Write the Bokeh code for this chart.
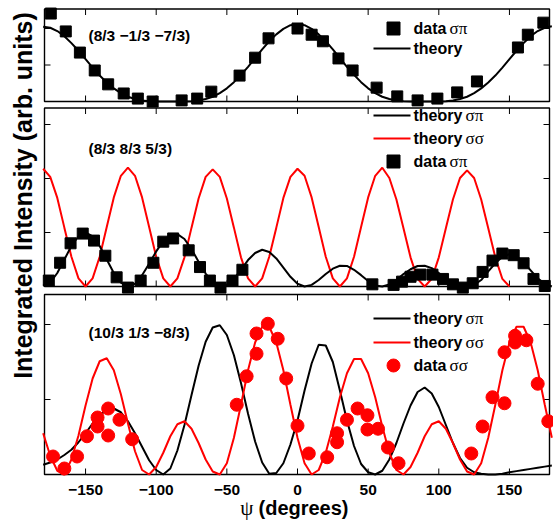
import math
from bokeh.plotting import figure
from bokeh.models import Range1d
from bokeh.core.properties import value
from bokeh.embed import file_html
from bokeh.resources import INLINE

# ---------------- data ----------------
x_ticks = [-150, -100, -50, 0, 50, 100, 150]
x_tick_labels = ["\u2212150", "\u2212100", "\u221250", "0", "50", "100", "150"]

# theory sampled every 5 degrees
psi_theory = list(range(-180, 181, 5))
psi_theory_mid_ss = list(range(-180, 151, 5))

# panel 1: (8/3 -1/3 -7/3)
top_theory = [2.05, 2.02, 1.93, 1.79, 1.60, 1.39, 1.16, 0.93, 0.71, 0.52,
              0.36, 0.23, 0.13, 0.07, 0.03, 0.01, 0.0, 0.0, 0.0, 0.0,
              0.0, 0.01, 0.03, 0.07, 0.13, 0.23, 0.36, 0.53, 0.73, 0.95,
              1.19, 1.43, 1.65, 1.84, 1.99, 2.09, 2.12, 2.09, 1.99, 1.84,
              1.65, 1.43, 1.19, 0.95, 0.73, 0.53, 0.36, 0.23, 0.13, 0.07,
              0.03, 0.01, 0.0, 0.0, 0.0, 0.0, 0.0, 0.01, 0.03, 0.07,
              0.13, 0.23, 0.36, 0.52, 0.71, 0.93, 1.16, 1.39, 1.60, 1.79,
              1.93, 2.02, 2.06]
top_psi = [-174.6, -164, -154, -143.5, -134, -123, -113, -102.5, -82, -71,
           -61, -41, -30, -20.5, 0, 10, 18, 29, 39, 56,
           70.6, 85, 99, 113, 127, 156, 163, 174]
top_val = [2.41, 1.92, 1.34, 0.85, 0.47, 0.22, 0.08, 0.0, 0.03, 0.08,
           0.27, 0.71, 1.2, 1.73, 2.0, 1.83, 1.65, 1.18, 0.85, 0.38,
           0.14, 0.03, 0.08, 0.25, 0.55, 1.48, 1.83, 2.16]

# panel 2: (8/3 8/3 5/3)
mid_pi_theory = [0.02, 0.07, 0.25, 0.5, 0.75, 0.93, 1.0, 0.93, 0.75, 0.5,
                 0.25, 0.07, 0.0, 0.05, 0.21, 0.42, 0.65, 0.84, 0.96, 0.97,
                 0.88, 0.69, 0.46, 0.24, 0.08, 0.0, 0.03, 0.14, 0.31, 0.49,
                 0.62, 0.68, 0.64, 0.52, 0.35, 0.18, 0.05, 0.0, 0.03, 0.12,
                 0.23, 0.33, 0.385, 0.38, 0.31, 0.21, 0.10, 0.02, 0.0, 0.04,
                 0.12, 0.23, 0.32, 0.38, 0.385, 0.34, 0.25, 0.14, 0.05, 0.0,
                 0.0, 0.03, 0.12, 0.28, 0.43, 0.55, 0.6, 0.56, 0.45, 0.3,
                 0.15, 0.05, 0.0]
mid_ss_theory = [2.18, 2.03, 1.64, 1.09, 0.55, 0.15, 0.0, 0.15, 0.55, 1.10,
                 1.65, 2.05, 2.20, 2.05, 1.65, 1.10, 0.55, 0.15, 0.0, 0.15,
                 0.54, 1.09, 1.63, 2.03, 2.17, 2.03, 1.63, 1.09, 0.54, 0.15,
                 0.0, 0.15, 0.55, 1.09, 1.64, 2.03, 2.18, 2.05, 1.65, 1.10,
                 0.55, 0.15, 0.0, 0.15, 0.55, 1.10, 1.65, 2.05, 2.20, 2.01,
                 1.61, 1.08, 0.54, 0.14, 0.0, 0.14, 0.54, 1.08, 1.61, 2.01,
                 2.15, 2.01, 1.61, 1.08, 0.54, 0.14, 0.0]
mid_psi = [-176, -168, -160.6, -152, -144, -136, -128, -120, -111, -102,
           -95, -88, -77, -69, -62, -54.5, -46, -39,
           53, 68, 74, 80, 87, 95.5, 103, 110, 117, 124,
           131, 138, 145, 153, 160, 167, 175]
mid_val = [0.11, 0.44, 0.80, 0.98, 0.85, 0.57, 0.17, -0.02, 0.11, 0.44,
           0.83, 0.89, 0.67, 0.36, 0.11, -0.02, 0.11, 0.31,
           0.04, 0.03, 0.09, 0.18, 0.22, 0.22, 0.14, 0.04, -0.02, 0.06,
           0.27, 0.48, 0.61, 0.58, 0.43, 0.14, 0.01]

# panel 3: (10/3 1/3 -8/3)
bot_pi_theory = [0.13, 0.16, 0.2, 0.26, 0.33, 0.43, 0.55, 0.68, 0.79, 0.86,
                 0.88, 0.83, 0.71, 0.55, 0.37, 0.19, 0.06, 0.0, 0.08, 0.32,
                 0.66, 1.06, 1.45, 1.77, 1.96, 1.99, 1.86, 1.59, 1.22, 0.81,
                 0.44, 0.16, 0.01, 0.02, 0.15, 0.40, 0.72, 1.12, 1.48, 1.73,
                 1.72, 1.50, 1.12, 0.72, 0.38, 0.14, 0.03, 0.0, 0.05, 0.2,
                 0.42, 0.68, 0.92, 1.1, 1.16, 1.08, 0.9, 0.66, 0.42, 0.22,
                 0.09, 0.03, 0.01, 0.0, 0.0, 0.01, 0.03, 0.045, 0.06, 0.075,
                 0.09, 0.105, 0.12]
bot_ss_theory = [0.55, 0.25, 0.05, 0.0, 0.2, 0.52, 0.92, 1.28, 1.51, 1.55,
                 1.39, 1.07, 0.68, 0.31, 0.06, 0.0, 0.1, 0.29, 0.51, 0.67,
                 0.71, 0.61, 0.42, 0.2, 0.04, 0.0, 0.15, 0.49, 0.93, 1.39,
                 1.76, 1.97, 1.97, 1.76, 1.39, 0.93, 0.49, 0.15, 0.0, 0.06,
                 0.29, 0.64, 1.03, 1.35, 1.54, 1.54, 1.35, 1.03, 0.64, 0.29,
                 0.06, 0.0, 0.1, 0.29, 0.51, 0.67, 0.71, 0.61, 0.42, 0.2,
                 0.04, 0.0, 0.15, 0.49, 0.93, 1.39, 1.76, 1.97, 1.97, 1.76,
                 1.39, 0.93, 0.49]
bot_psi = [-173, -165, -156, -149, -141.5, -141.5, -134, -134, -126, -117,
           -43, -36, -29, -29, -21, -14, -8, 0, 8,
           21, 28, 28, 35, 42.5, 49.5, 49.5, 57, 64, 71.5,
           123, 131, 138, 146.5, 146.5, 154, 154, 162, 170, 177.5]
bot_val = [0.24, 0.08, 0.24, 0.51, 0.64, 0.76, 0.88, 0.52, 0.73, 0.47,
           0.93, 1.31, 1.61, 1.88, 2.01, 1.81, 1.28, 0.65, 0.28,
           0.23, 0.55, 0.43, 0.73, 0.88, 0.79, 0.6, 0.61, 0.36, 0.15,
           0.28, 0.64, 1.03, 0.95, 1.63, 1.85, 1.76, 1.79, 1.21, 0.71]

panel_titles = ["(8/3 \u22121/3 \u22127/3)", "(8/3 8/3 5/3)", "(10/3 1/3 \u22128/3)"]
y_title = "Integrated Intensity (arb. units)"
x_title_symbol = "\u03c8"
x_title_text = "(degrees)"

# ---------------- layout ----------------
W, H = 553, 520
RED = "#ff0000"
SANS = "Liberation Sans"
SERIF = "Liberation Serif"
PX_PER_DEG = 1.413
PSI0_PAGE = 297.0


def psi_at(px):
    return (px - PSI0_PAGE) / PX_PER_DEG


def yp(page_y):  # default y range: pixels above canvas bottom
    return H - page_y


PSI_L, PSI_R = psi_at(44), psi_at(549)

p = figure(width=W, height=H, output_backend="svg", toolbar_location=None,
           x_range=Range1d(psi_at(0), psi_at(W)), y_range=Range1d(0, H),
           min_border_left=0, min_border_right=0, min_border_top=0,
           min_border_bottom=0)
p.outline_line_color = None
p.grid.visible = False
p.axis.visible = False
p.background_fill_color = "white"

# (name, page top, page bottom (value 0), px per unit, y ticks)
panels = [
    ("top", 8.5, 101.0, 36.5, [1, 2]),
    ("mid", 107.5, 286.0, 54.0, [1, 2, 3]),
    ("bot", 294.0, 474.0, 75.0, [1, 2]),
]
TICK = 6.0
for name, ptop, pbot, k, yt in panels:
    p.extra_y_ranges[name] = Range1d(-(H - pbot) / k, pbot / k)
    vtop = (pbot - ptop) / k
    p.quad(left=[PSI_L], right=[PSI_R], bottom=[0], top=[vtop], y_range_name=name,
           fill_color=None, line_color="black", line_width=1.4)
    n = len(x_ticks)
    p.segment(x0=x_ticks, x1=x_ticks, y0=[0] * n, y1=[TICK / k] * n,
              y_range_name=name, line_color="black", line_width=1)
    p.segment(x0=x_ticks, x1=x_ticks, y0=[vtop] * n, y1=[vtop - TICK / k] * n,
              y_range_name=name, line_color="black", line_width=1)
    d = TICK / PX_PER_DEG
    m = len(yt)
    p.segment(x0=[PSI_L] * m, x1=[PSI_L + d] * m, y0=yt, y1=yt,
              y_range_name=name, line_color="black", line_width=1)
    p.segment(x0=[PSI_R] * m, x1=[PSI_R - d] * m, y0=yt, y1=yt,
              y_range_name=name, line_color="black", line_width=1)

# x tick labels
p.text(x=x_ticks, y=[yp(489)] * len(x_ticks), text=x_tick_labels,
       text_font=value(SANS), text_font_style="bold", text_font_size="15.5px",
       text_align="center", text_baseline="middle", text_color="black")

# ---- curves and data ----
p.line(psi_theory, top_theory, y_range_name="top", line_color="black", line_width=2)
p.scatter(top_psi, top_val, y_range_name="top", marker="square", size=11,
          fill_color="black", line_color="black")

p.line(psi_theory_mid_ss, mid_ss_theory, y_range_name="mid", line_color=RED, line_width=2)
p.line(psi_theory, mid_pi_theory, y_range_name="mid", line_color="black", line_width=2)
p.scatter(mid_psi, mid_val, y_range_name="mid", marker="square", size=11,
          fill_color="black", line_color="black")

p.line(psi_theory, bot_pi_theory, y_range_name="bot", line_color="black", line_width=2)
p.line(psi_theory, bot_ss_theory, y_range_name="bot", line_color=RED, line_width=2)
p.scatter(bot_psi, bot_val, y_range_name="bot", marker="circle", size=13,
          fill_color=RED, line_color=RED)

# ---- panel titles ----
for title, py in zip(panel_titles, [35, 148, 332]):
    p.text(x=[psi_at(88)], y=[yp(py)], text=[title], text_font=value(SANS),
           text_font_style="bold", text_font_size="15.5px", text_align="left",
           text_baseline="middle", text_color="black")

# ---- legends (manual, mixed fonts) ----
LX_TXT = psi_at(413)
LX_L0, LX_L1 = psi_at(373), psi_at(410)
LX_MK = psi_at(393)


def leg_text(py, word, greek, off):
    p.text(x=[LX_TXT], y=[yp(py)], text=[word], text_font=value(SANS),
           text_font_style="bold", text_font_size="16px", text_align="left",
           text_baseline="middle", text_color="black")
    if greek:
        p.text(x=[LX_TXT], y=[yp(py)], text=[greek], text_font=value(SERIF),
               text_font_size="17px", text_align="left", x_offset=off,
               text_baseline="middle", text_color="black")


def leg_line(py, color):
    p.line([LX_L0, LX_L1], [yp(py), yp(py)], line_color=color, line_width=2)


# top
p.scatter([LX_MK], [yp(28)], marker="square", size=13, fill_color="black", line_color="black")
leg_text(28, "data", "\u03c3\u03c0", 36)
leg_line(48, "black")
leg_text(48, "theory", None, 0)
# middle
leg_line(115, "black")
leg_text(115, "theory", "\u03c3\u03c0", 52)
leg_line(138, RED)
leg_text(138, "theory", "\u03c3\u03c3", 52)
p.scatter([LX_MK], [yp(161)], marker="square", size=13, fill_color="black", line_color="black")
leg_text(161, "data", "\u03c3\u03c0", 36)
# bottom
leg_line(318, "black")
leg_text(318, "theory", "\u03c3\u03c0", 52)
leg_line(342, RED)
leg_text(342, "theory", "\u03c3\u03c3", 52)
p.scatter([LX_MK], [yp(365)], marker="circle", size=13, fill_color=RED, line_color=RED)
leg_text(365, "data", "\u03c3\u03c3", 36)

# ---- axis titles ----
p.text(x=[psi_at(22)], y=[yp(195)], text=[y_title], angle=math.pi / 2,
       text_align="center", text_baseline="middle", text_font=value(SANS),
       text_font_style="bold", text_font_size="25px", text_color="black")
p.text(x=[psi_at(253)], y=[yp(507)], text=[x_title_symbol], text_align="right",
       text_baseline="middle", text_font=value(SERIF), text_font_size="21px",
       text_color="black")
p.text(x=[psi_at(258)], y=[yp(507)], text=[x_title_text], text_align="left",
       text_baseline="middle", text_font=value(SANS), text_font_style="bold",
       text_font_size="20px", text_color="black")

open("out.html", "w").write(file_html(p, INLINE))
